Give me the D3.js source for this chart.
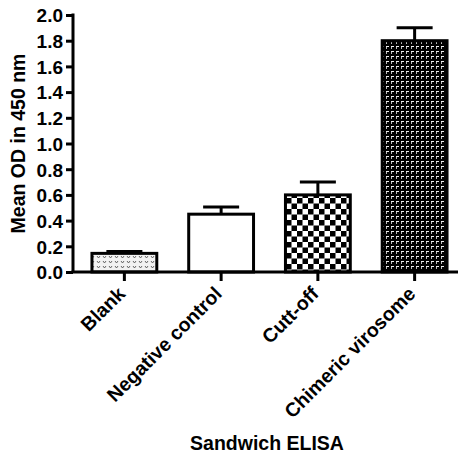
<!DOCTYPE html>
<html>
<head>
<meta charset="utf-8">
<script src="https://cdn.jsdelivr.net/npm/d3@7"></script>
<style>
  html, body { margin: 0; padding: 0; background: #fff; }
  svg { display: block; }
  text { font-family: "Liberation Sans", Arial, sans-serif; font-weight: bold; fill: #000; }
</style>
</head>
<body>
<svg id="chart" width="460" height="458"></svg>
<script>
const categories = ["Blank", "Negative control", "Cutt-off", "Chimeric virosome"];
const meanOD = [0.145, 0.45, 0.60, 1.80];
const errorUpper = [0.16, 0.505, 0.70, 1.90];
const patterns = ["pBlank", "pNone", "pCheck", "pDark"];
const yTicks = [0.0, 0.2, 0.4, 0.6, 0.8, 1.0, 1.2, 1.4, 1.6, 1.8, 2.0];
const yTitle = "Mean OD in 450 nm";
const xTitle = "Sandwich ELISA";

const svg = d3.select("#chart");
const defs = svg.append("defs");

// Blank: light dotted pattern
const pb = defs.append("pattern").attr("id", "pBlank").attr("patternUnits", "userSpaceOnUse")
  .attr("width", 6).attr("height", 5);
pb.append("rect").attr("width", 6).attr("height", 5).attr("fill", "#f2f2f2");
pb.append("path").attr("d", "M1,1 L2.5,3 L4,1").attr("fill", "none").attr("stroke", "#555").attr("stroke-width", 0.9);

// Checkerboard
const pc = defs.append("pattern").attr("id", "pCheck").attr("patternUnits", "userSpaceOnUse")
  .attr("width", 11).attr("height", 11);
pc.append("rect").attr("width", 11).attr("height", 11).attr("fill", "#fff");
pc.append("rect").attr("width", 5.5).attr("height", 5.5).attr("fill", "#000");
pc.append("rect").attr("x", 5.5).attr("y", 5.5).attr("width", 5.5).attr("height", 5.5).attr("fill", "#000");

// Dark with small white L marks
const pd = defs.append("pattern").attr("id", "pDark").attr("patternUnits", "userSpaceOnUse")
  .attr("width", 5).attr("height", 5);
pd.append("rect").attr("width", 5).attr("height", 5).attr("fill", "#000");
pd.append("rect").attr("x", 1).attr("y", 1).attr("width", 3).attr("height", 1).attr("fill", "#eee");
pd.append("rect").attr("x", 1).attr("y", 2).attr("width", 1).attr("height", 2).attr("fill", "#bbb");

const x = d3.scaleBand().domain(categories).range([76, 463]).paddingInner(0.33).paddingOuter(0.165);
const y = d3.scaleLinear().domain([0, 2]).range([272, 15]);

// Bars
const g = svg.append("g");
categories.forEach((c, i) => {
  const x0 = x(c), bw = x.bandwidth(), cx = x0 + bw / 2;
  g.append("line").attr("x1", cx).attr("x2", cx).attr("y1", y(meanOD[i])).attr("y2", y(errorUpper[i]))
    .attr("stroke", "#000").attr("stroke-width", 3);
  g.append("line").attr("x1", cx - 18).attr("x2", cx + 18).attr("y1", y(errorUpper[i])).attr("y2", y(errorUpper[i]))
    .attr("stroke", "#000").attr("stroke-width", 3);
  g.append("rect").attr("x", x0).attr("y", y(meanOD[i])).attr("width", bw)
    .attr("height", y(0) - y(meanOD[i]))
    .attr("fill", patterns[i] === "pNone" ? "#fff" : `url(#${patterns[i]})`)
    .attr("stroke", "#000").attr("stroke-width", 3);
});

// Y axis
const yAxis = d3.axisLeft(y).tickValues(yTicks).tickFormat(d3.format(".1f")).tickSize(7).tickPadding(3);
const ya = svg.append("g").attr("transform", "translate(73,0)").call(yAxis);
ya.select(".domain").attr("stroke-width", 3).attr("d", `M0,${y(2) - 1.5}V${y(0)}`);
ya.selectAll(".tick line").attr("stroke-width", 3);
ya.selectAll(".tick text").style("font-size", "19px").attr("dy", "0.36em");

// X axis
const xAxis = d3.axisBottom(x).tickSize(9).tickFormat("");
const xa = svg.append("g").attr("transform", "translate(0,272)").call(xAxis);
xa.select(".domain").attr("stroke-width", 3).attr("d", `M71.5,0H458`);
xa.selectAll(".tick line").attr("stroke-width", 3);

// Category labels rotated
categories.forEach(c => {
  const cx = x(c) + x.bandwidth() / 2;
  svg.append("text")
    .attr("transform", `translate(${cx + 2},${295}) rotate(-45)`)
    .attr("text-anchor", "end")
    .style("font-size", "19.5px")
    .text(c);
});

// Axis titles
svg.append("text")
  .attr("transform", `translate(25,${(y(0) + y(2)) / 2}) rotate(-90)`)
  .attr("text-anchor", "middle")
  .style("font-size", "19.5px")
  .text(yTitle);

svg.append("text")
  .attr("x", 267).attr("y", 450)
  .attr("text-anchor", "middle")
  .style("font-size", "19.5px")
  .text(xTitle);
</script>
</body>
</html>
